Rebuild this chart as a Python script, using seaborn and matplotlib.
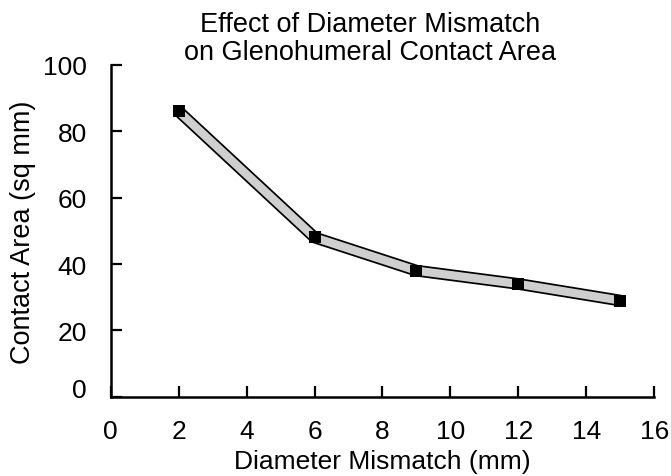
import matplotlib
matplotlib.use('Agg')
import matplotlib.pyplot as plt
import matplotlib.patheffects as pe
import matplotlib.transforms as mtransforms
import pandas as pd
import seaborn as sns

# values
mismatch_mm = [2, 6, 9, 12, 15]
contact_area = [86, 48, 38, 34, 29]
x_ticks = [0, 2, 4, 6, 8, 10, 12, 14, 16]
y_ticks = [0, 20, 40, 60, 80, 100]

df = pd.DataFrame({"mismatch": mismatch_mm, "area": contact_area})

sns.set_style("ticks")
plt.rcParams['font.family'] = ['Liberation Sans', 'DejaVu Sans']
plt.rcParams['text.color'] = 'black'
plt.rcParams['axes.labelcolor'] = 'black'

fig = plt.figure(figsize=(6.71, 4.77), dpi=100)
ax = fig.add_axes([0.165, 0.166, 0.81, 0.696])

# grey ribbon with black outline
sns.lineplot(data=df, x="mismatch", y="area", ax=ax, color="#cfcfcf", lw=6,
             solid_joinstyle="miter", solid_capstyle="butt",
             path_effects=[pe.Stroke(linewidth=8.5, foreground="black"), pe.Normal()])
sns.scatterplot(data=df, x="mismatch", y="area", ax=ax, marker="s", s=70,
                color="black", edgecolor="black", linewidth=0, zorder=5)

ax.set_xlim(0, 16)
ax.set_ylim(0, 100)
ax.set_xticks(x_ticks)
ax.set_yticks(y_ticks)
ax.tick_params(direction="in", length=8, width=1.6, labelsize=19, pad=16,
               colors="black", labelcolor="black")
ax.tick_params(axis="y", pad=17)
for side in ["top", "right"]:
    ax.spines[side].set_visible(False)
for side in ["left", "bottom"]:
    ax.spines[side].set_linewidth(1.8)
    ax.spines[side].set_color("black")

# the "0" on the y axis sits a little above its tick in the original
zero_lbl = ax.get_yticklabels()[0]
zero_lbl.set_transform(zero_lbl.get_transform() +
                       mtransforms.ScaledTranslation(0, 7 / 72, fig.dpi_scale_trans))

ax.set_xlabel("Diameter Mismatch (mm)", fontsize=19, labelpad=4)
ax.set_ylabel("Contact Area (sq mm)", fontsize=19.5, labelpad=5)

fig.text(0.552, 0.975, "Effect of Diameter Mismatch\non Glenohumeral Contact Area",
         ha="center", va="top", fontsize=19.5, linespacing=1.1)

fig.savefig("out.png", dpi=100, facecolor="white")
